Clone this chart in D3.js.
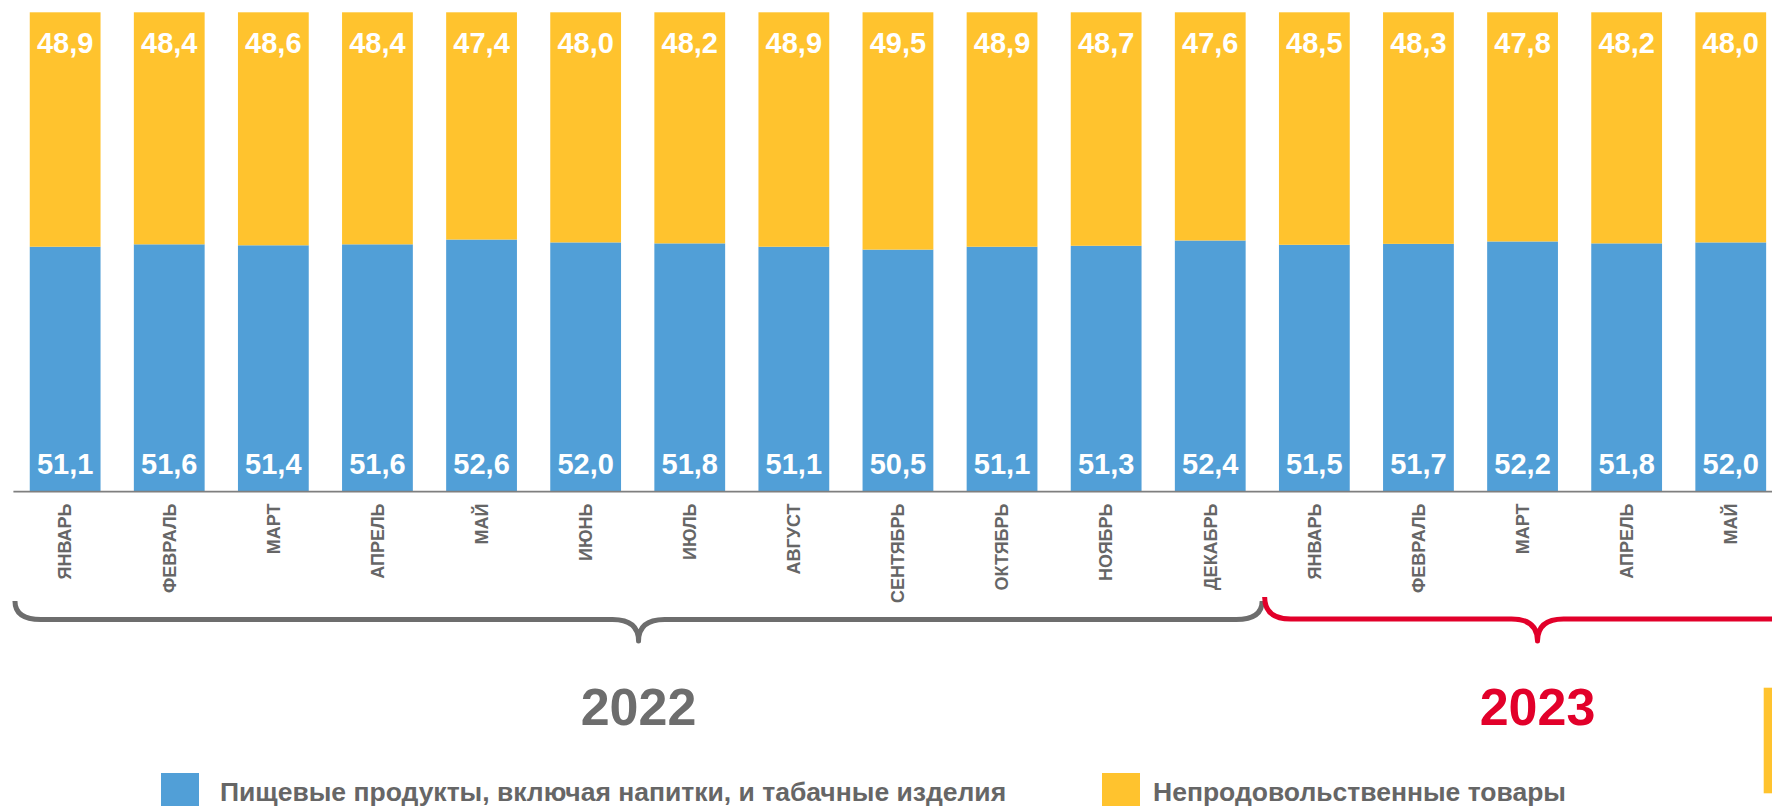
<!DOCTYPE html>
<html><head><meta charset="utf-8">
<script src="https://cdn.jsdelivr.net/npm/d3@7"></script>
<style>html,body{margin:0;padding:0;background:#fff;overflow:hidden}svg{display:block}</style>
</head><body>
<svg id="c" width="1772" height="806"></svg>
<script>
const months = ["ЯНВАРЬ","ФЕВРАЛЬ","МАРТ","АПРЕЛЬ","МАЙ","ИЮНЬ","ИЮЛЬ","АВГУСТ","СЕНТЯБРЬ","ОКТЯБРЬ","НОЯБРЬ","ДЕКАБРЬ","ЯНВАРЬ","ФЕВРАЛЬ","МАРТ","АПРЕЛЬ","МАЙ"];
const years = ["2022","2022","2022","2022","2022","2022","2022","2022","2022","2022","2022","2022","2023","2023","2023","2023","2023"];
const food = [51.1,51.6,51.4,51.6,52.6,52.0,51.8,51.1,50.5,51.1,51.3,52.4,51.5,51.7,52.2,51.8,52.0];
const nonfood = [48.9,48.4,48.6,48.4,47.4,48.0,48.2,48.9,49.5,48.9,48.7,47.6,48.5,48.3,47.8,48.2,48.0];
const seriesNames = ["Пищевые продукты, включая напитки, и табачные изделия","Непродовольственные товары"];
const yearLabels = ["2022","2023"];

const BLUE="#519FD7", YELLOW="#FFC32E", GREY="#6D6D6D", RED="#E2002A", TXT="#666666";
const svg = d3.select("#c");
const idx = d3.range(months.length);
const x = d3.scaleBand().domain(idx).range([13.1, 13.1+17*104.1]).paddingInner(0.32).paddingOuter(0.16);
const y = d3.scaleLinear().domain([0,100]).range([491.7, 12.3]);
const fmt = v => v.toFixed(1).replace(".", ",");

const data = idx.map(i => ({i, food: food[i], nonfood: nonfood[i]}));
const stack = d3.stack().keys(["food","nonfood"])(data);
const colors = {food: BLUE, nonfood: YELLOW};

svg.append("g").selectAll("g").data(stack).join("g")
  .attr("fill", s => colors[s.key])
  .selectAll("rect").data(s => s).join("rect")
  .attr("x", d => x(d.data.i)).attr("width", x.bandwidth())
  .attr("y", d => y(d[1])).attr("height", d => y(d[0]) - y(d[1]));

// value labels
const lab = svg.append("g").attr("font-family","Liberation Sans, Arial, sans-serif")
  .attr("font-weight","bold").attr("font-size",29).attr("fill","#fff").attr("text-anchor","middle");
lab.selectAll("text.nf").data(data).join("text").attr("class","nf")
  .attr("x", d => x(d.i) + x.bandwidth()/2).attr("y", y(100) + 40.3).text(d => fmt(d.nonfood));
lab.selectAll("text.f").data(data).join("text").attr("class","f")
  .attr("x", d => x(d.i) + x.bandwidth()/2).attr("y", y(0) - 17.7).text(d => fmt(d.food));

// axis line
svg.append("line").attr("x1",13.4).attr("x2",1772).attr("y1",y(0)).attr("y2",y(0))
  .attr("stroke","#7F7F7F").attr("stroke-width",1.8);

// month labels
svg.append("g").selectAll("text").data(idx).join("text")
  .attr("transform", i => `translate(${x(i)+x.bandwidth()/2},503.5) rotate(-90)`)
  .attr("text-anchor","end").attr("dy","0.35em")
  .attr("font-family","Liberation Sans, Arial, sans-serif").attr("font-weight","bold")
  .attr("font-size",18).attr("fill",TXT).text(i => months[i]);

// braces
function brace(x0, x1, yTop, yLine, yTip, r) {
  const m = (x0 + x1) / 2;
  return `M${x0},${yTop} Q${x0},${yLine} ${x0+r},${yLine} H${m-r} Q${m},${yLine} ${m},${yTip} Q${m},${yLine} ${m+r},${yLine} H${x1-r} Q${x1},${yLine} ${x1},${yTop}`;
}
const groups = yearLabels.map(yr => {
  const ii = idx.filter(i => years[i] === yr);
  return {yr, first: ii[0], last: ii[ii.length-1]};
});
const g0 = groups[0];
const gx0 = x(g0.first) - 14.8, gx1 = x(g0.last) + x.bandwidth() + 16.5;
svg.append("path").attr("d", brace(gx0, gx1, 601, 619.5, 641, 26))
  .attr("fill","none").attr("stroke",GREY).attr("stroke-width",5).attr("stroke-linejoin","round");
const g1 = groups[1];
const rx0 = x(g1.first) - 14.3;
const rx1 = rx0 + 2*(1537.5 - rx0);
svg.append("path").attr("d", brace(rx0, rx1, 597, 619, 641, 26))
  .attr("fill","none").attr("stroke",RED).attr("stroke-width",5).attr("stroke-linejoin","round");

// year labels
svg.append("text").attr("x",(gx0+gx1)/2).attr("y",725).attr("text-anchor","middle")
  .attr("font-family","Liberation Sans, Arial, sans-serif").attr("font-weight","bold")
  .attr("font-size",52).attr("fill",GREY).text(yearLabels[0]);
svg.append("text").attr("x",1537.5).attr("y",725).attr("text-anchor","middle")
  .attr("font-family","Liberation Sans, Arial, sans-serif").attr("font-weight","bold")
  .attr("font-size",52).attr("fill",RED).text(yearLabels[1]);

// decorative yellow element at right edge
svg.append("rect").attr("x",1763.7).attr("y",687.7).attr("width",9).attr("height",105.6).attr("fill",YELLOW);

// legend
const leg = [{name: seriesNames[0], c: BLUE, x: 161, tx: 220}, {name: seriesNames[1], c: YELLOW, x: 1102, tx: 1153}];
const lg = svg.append("g").selectAll("g").data(leg).join("g");
lg.append("rect").attr("x", d => d.x).attr("y",773).attr("width",38).attr("height",38).attr("fill", d => d.c);
lg.append("text").attr("x", d => d.tx).attr("y",801)
  .attr("font-family","Liberation Sans, Arial, sans-serif").attr("font-weight","bold")
  .attr("font-size",26.5).attr("fill",TXT).text(d => d.name);
</script>
</body></html>
